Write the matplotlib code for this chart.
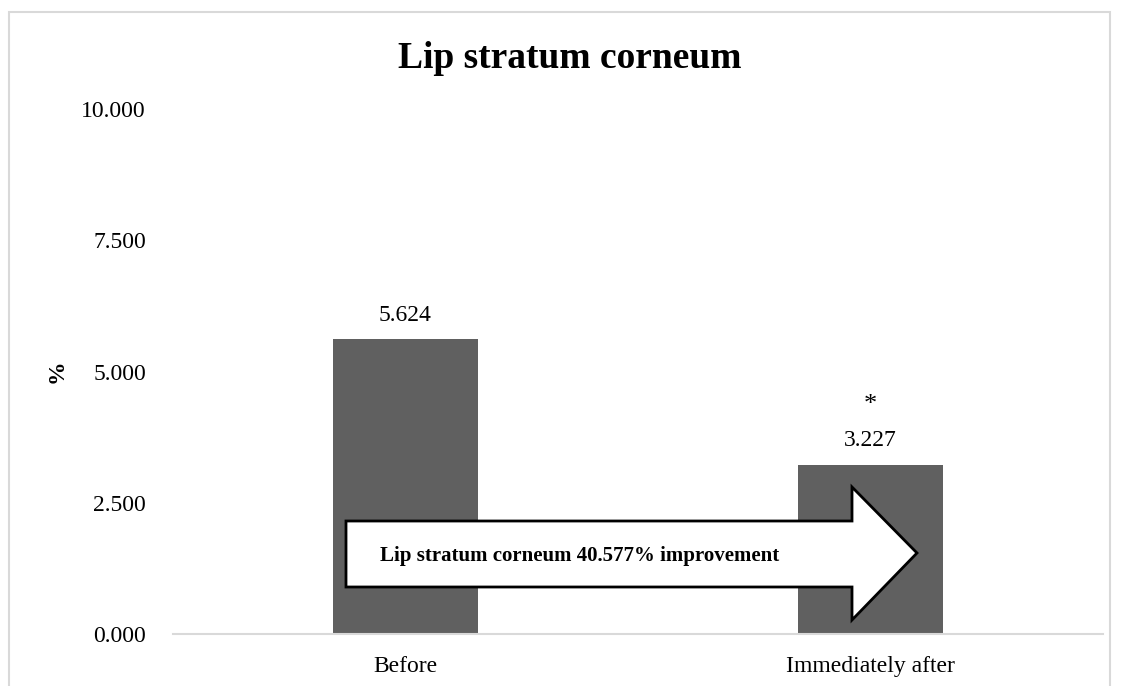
import matplotlib
matplotlib.use("Agg")
import matplotlib.pyplot as plt
from matplotlib.patches import Polygon, Rectangle

categories = ["Before", "Immediately after"]
values = [5.624, 3.227]
value_labels = ["5.624", "3.227"]
significance = ["", "*"]
yticks = [0.0, 2.5, 5.0, 7.5, 10.0]
title = "Lip stratum corneum"
arrow_text = "Lip stratum corneum 40.577% improvement"

plt.rcParams['font.family'] = ['Liberation Serif', 'DejaVu Serif']

W, H = 1121, 686
fig = plt.figure(figsize=(W / 100, H / 100), dpi=100)

# outer chart border
fig.patches.append(Rectangle((9 / W, -0.05), (1110 - 9) / W, (H - 12) / H + 0.05,
                             transform=fig.transFigure, fill=False,
                             edgecolor='#d9d9d9', linewidth=1.5))

x0, x1 = 173, 1103
ybot, ytop = 634, 109
ax = fig.add_axes([x0 / W, 1 - ybot / H, (x1 - x0) / W, (ybot - ytop) / H])

xpos = list(range(len(categories)))
ax.bar(xpos, values, width=0.31, color='#606060', zorder=2)
ax.set_xlim(-0.5, 1.5)
ax.set_ylim(0, 10)
ax.set_yticks(yticks)
ax.set_yticklabels([f"{t:.3f}" for t in yticks])
ax.set_xticks(xpos)
ax.set_xticklabels(categories)
ax.tick_params(axis='both', length=0, labelsize=17, colors='black')
ax.tick_params(axis='y', pad=19.5)
ax.tick_params(axis='x', pad=16)
for s in ['top', 'right', 'left']:
    ax.spines[s].set_visible(False)
ax.spines['bottom'].set_color('#d9d9d9')
ax.spines['bottom'].set_linewidth(1.5)

for x, v, lab, sig in zip(xpos, values, value_labels, significance):
    ax.annotate(lab, (x, v), xytext=(0, 17), textcoords='offset points',
                ha='center', va='center', fontsize=17)
    if sig:
        ax.annotate(sig, (x, v), xytext=(0, 43), textcoords='offset points',
                    ha='center', va='center', fontsize=19)

ax.set_ylabel('%', fontsize=17, fontweight='bold', labelpad=10)
fig.text(570 / W, 1 - 58 / H, title, ha='center', va='center',
         fontsize=27, fontweight='bold')

# improvement arrow (figure pixel coordinates)
pts = [(346, 521), (852, 521), (852, 487), (917, 553), (852, 620),
       (852, 587), (346, 587)]
poly = Polygon([(px / W, 1 - py / H) for px, py in pts], closed=True,
               transform=fig.transFigure, facecolor='white',
               edgecolor='black', linewidth=2, zorder=5)
fig.patches.append(poly)
fig.text(580 / W, 1 - 556 / H, arrow_text, ha='center', va='center',
         fontsize=15, fontweight='bold', zorder=6)

fig.savefig('out.png', dpi=100)
